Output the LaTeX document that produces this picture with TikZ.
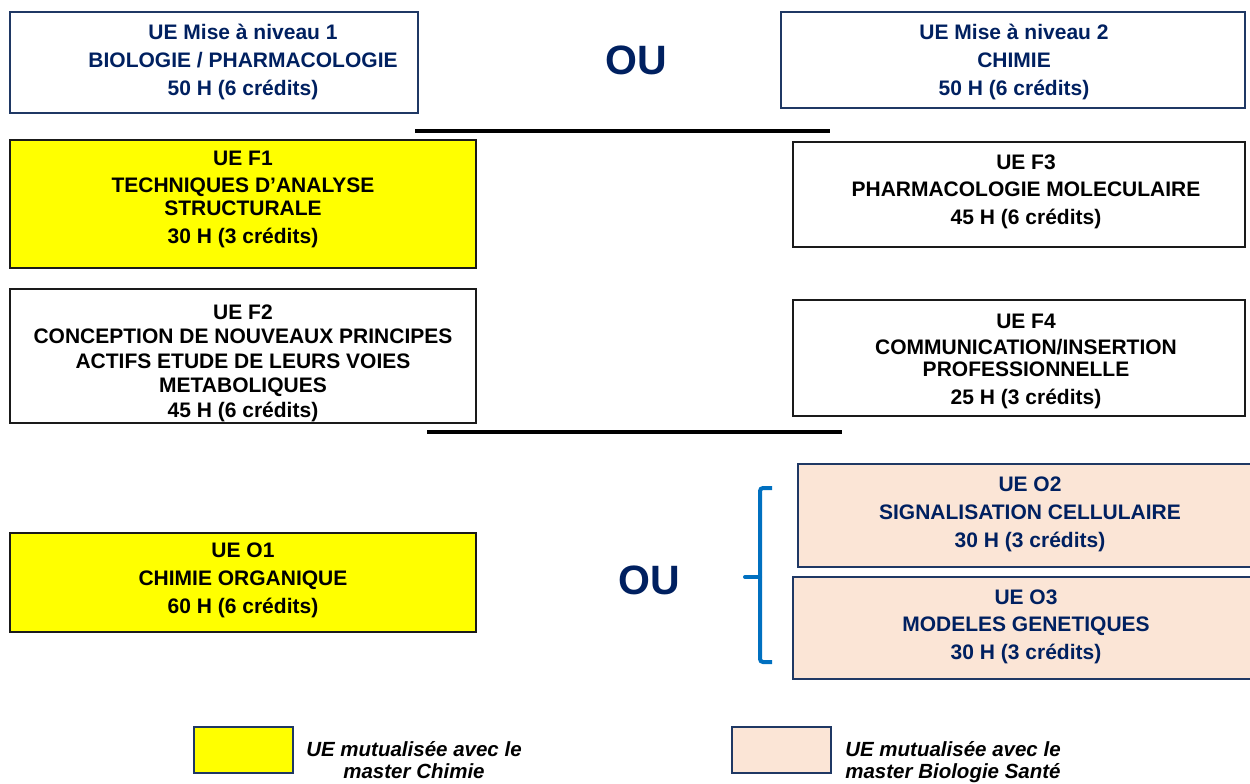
\documentclass[tikz,border=0pt]{standalone}
\usepackage{fontspec}
\setmainfont{Liberation Sans}
\definecolor{navy}{HTML}{002060}
\definecolor{boxnavy}{HTML}{1F3864}
\definecolor{peach}{HTML}{FBE5D6}
\definecolor{ylw}{HTML}{FFFF00}
\definecolor{brblue}{HTML}{0070C0}
\definecolor{edge}{HTML}{1A1A1A}
\begin{document}
\begin{tikzpicture}[x=1pt,y=-1pt,
  ubox/.style={draw=edge, line width=2pt, inner sep=0pt, outer sep=0pt, anchor=north west},
  nbox/.style={ubox, draw=boxnavy},
  btxt/.style={inner sep=0pt, align=center, font=\bfseries\fontsize{21}{28}\selectfont},
  ntxt/.style={btxt, text=navy},
  ou/.style={inner sep=0pt, font=\bfseries\fontsize{41}{41}\selectfont, text=navy},
  sepline/.style={line width=4pt, black},
  legtxt/.style={inner sep=0pt, align=center, anchor=north, font=\bfseries\itshape\fontsize{20.5}{22}\selectfont}
]
\useasboundingbox (0,0) rectangle (1250,784);

% top row
\node[nbox, minimum width=408pt, minimum height=101pt] (m1) at (10,12) {};
\node[ntxt] (m1t) at (243,62) {UE Mise à niveau 1\\BIOLOGIE / PHARMACOLOGIE\\50 H (6 crédits)};
\node[ou] (ou1) at (636,60) {OU};
\node[nbox, minimum width=464pt, minimum height=96pt] (m2) at (781,12) {};
\node[ntxt] (m2t) at (1014,62) {UE Mise à niveau 2\\CHIMIE\\50 H (6 crédits)};

\coordinate (l1a) at (415,131); \coordinate (l1b) at (830,131);
\draw[sepline] (l1a) -- (l1b);

% F boxes
\node[ubox, fill=ylw, minimum width=466pt, minimum height=128pt] (f1) at (10,140) {};
\node[btxt, font=\bfseries\fontsize{21}{23}\selectfont] (f1t) at (243,199.5) {UE F1\\[4pt]TECHNIQUES D’ANALYSE\\STRUCTURALE\\[5pt]30 H (3 crédits)};
\node[ubox, minimum width=452pt, minimum height=105pt] (f3) at (793,142) {};
\node[btxt, font=\bfseries\fontsize{21}{27.5}\selectfont] (f3t) at (1026,191.5) {UE F3\\PHARMACOLOGIE MOLECULAIRE\\45 H (6 crédits)};
\node[ubox, minimum width=466pt, minimum height=134pt] (f2) at (10,289) {};
\node[btxt, font=\bfseries\fontsize{21}{24.5}\selectfont] (f2t) at (243,363) {UE F2\\CONCEPTION DE NOUVEAUX PRINCIPES\\ACTIFS ETUDE DE LEURS VOIES\\METABOLIQUES\\45 H (6 crédits)};
\node[ubox, minimum width=452pt, minimum height=116pt] (f4) at (793,300) {};
\node[btxt, font=\bfseries\fontsize{21}{22}\selectfont] (f4t) at (1026,361) {UE F4\\[4pt]COMMUNICATION/INSERTION\\PROFESSIONNELLE\\[6pt]25 H (3 crédits)};

\coordinate (l2a) at (427,432); \coordinate (l2b) at (842,432);
\draw[sepline] (l2a) -- (l2b);

% O boxes
\node[ubox, fill=ylw, minimum width=466pt, minimum height=99pt] (o1) at (10,533) {};
\node[btxt] (o1t) at (243,580) {UE O1\\CHIMIE ORGANIQUE\\60 H (6 crédits)};
\node[ou] (ou2) at (649,580) {OU};
\node[nbox, fill=peach, minimum width=456pt, minimum height=103pt] (o2) at (798,464) {};
\node[ntxt, font=\bfseries\fontsize{21}{28}\selectfont] (o2t) at (1030,514.5) {UE O2\\SIGNALISATION CELLULAIRE\\30 H (3 crédits)};
\node[nbox, fill=peach, minimum width=461pt, minimum height=102pt] (o3) at (793,577) {};
\node[ntxt, font=\bfseries\fontsize{21}{27.5}\selectfont] (o3t) at (1026,626.5) {UE O3\\MODELES GENETIQUES\\30 H (3 crédits)};

% bracket
\coordinate (bt) at (772,488); \coordinate (bb) at (772,662);
\coordinate (btc) at (760,488); \coordinate (bbc) at (760,662);
\coordinate (bm) at (760,577); \coordinate (btip) at (745,577);
\draw[brblue, line width=4pt, rounded corners=3pt] (bt) -- (btc) -- (bbc) -- (bb);
\draw[brblue, line width=4pt, line cap=round] (btip) -- (bm);

% legend
\node[nbox, draw=boxnavy, fill=ylw, minimum width=99pt, minimum height=46pt] (lg1) at (194,727) {};
\node[legtxt] (lg1t) at (414,741) {UE mutualisée avec le\\master Chimie};
\node[nbox, draw=boxnavy, fill=peach, minimum width=99pt, minimum height=46pt] (lg2) at (732,727) {};
\node[legtxt] (lg2t) at (953,741) {UE mutualisée avec le\\master Biologie Santé};
\end{tikzpicture}
\end{document}
